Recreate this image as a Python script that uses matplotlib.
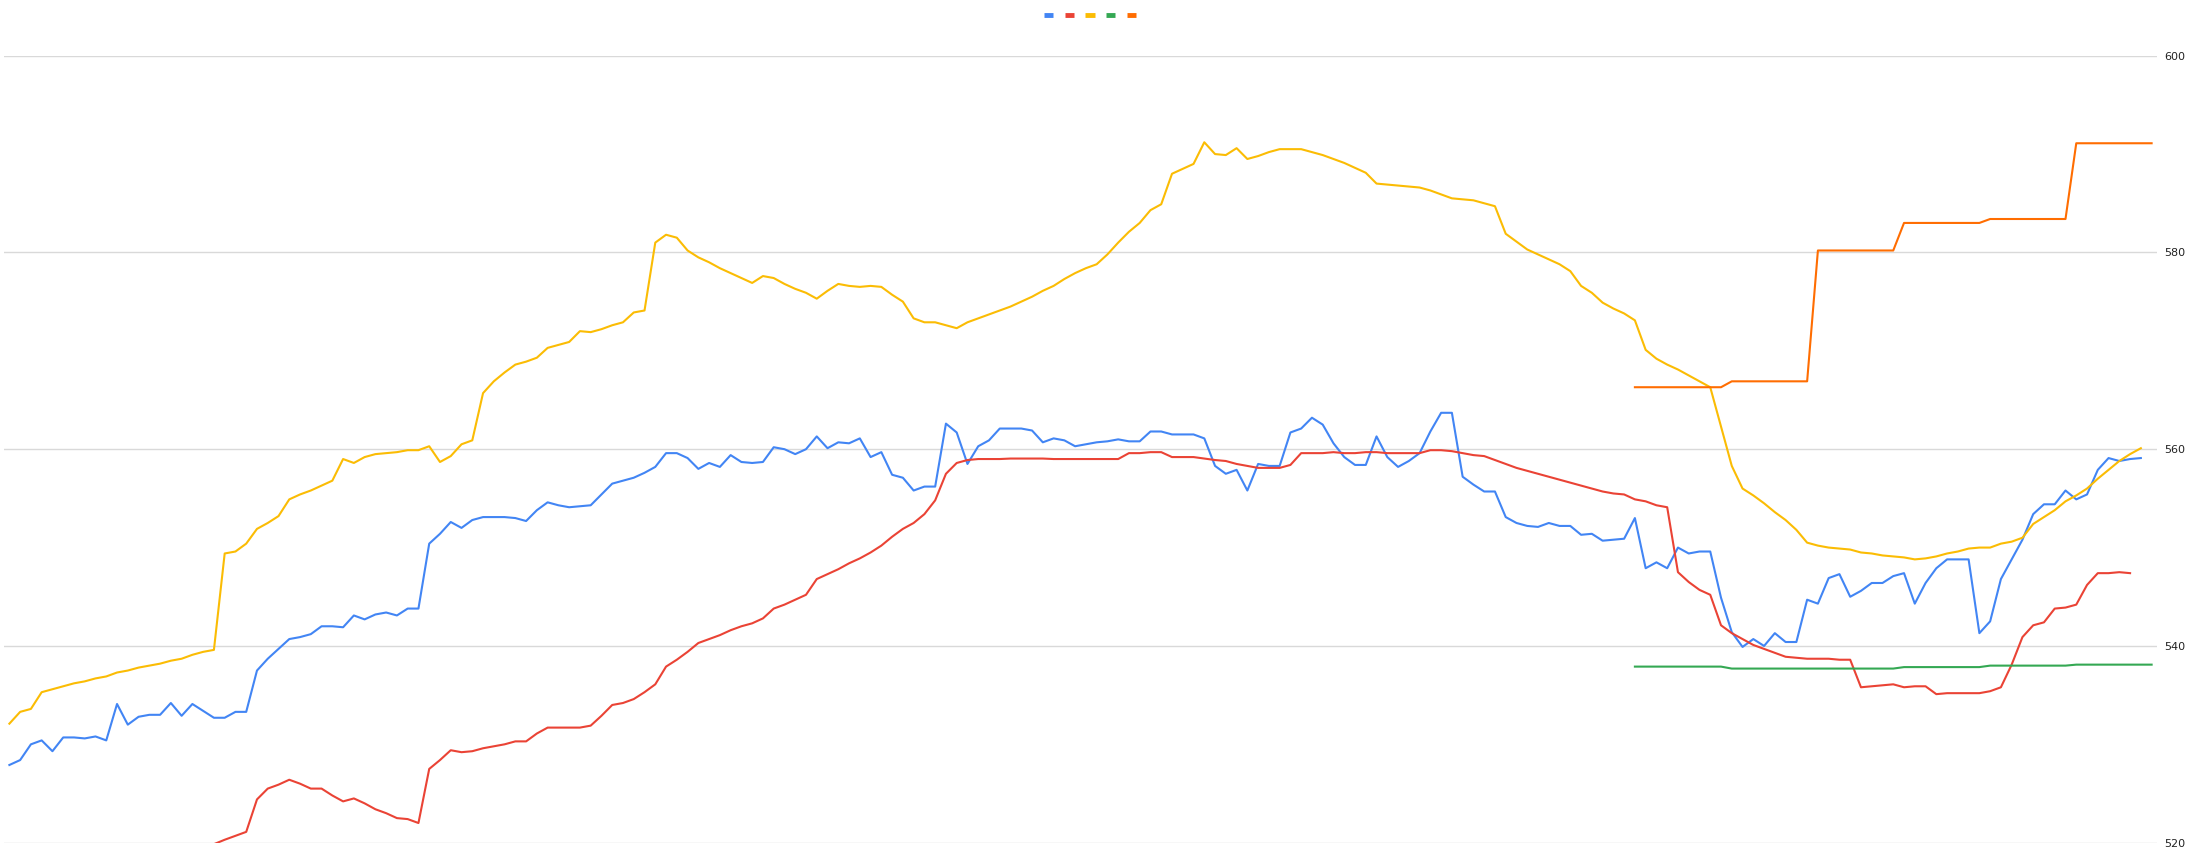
import matplotlib
matplotlib.use("Agg")
import matplotlib.pyplot as plt
from matplotlib.lines import Line2D
import numpy as np

# ---------------- data ----------------
n_points = 200
y_ticks = [520, 540, 560, 580, 600]

blue = [527.9, 528.4, 530.0, 530.4, 529.3, 530.7, 530.7, 530.6, 530.8, 530.4,
        534.1, 532.0, 532.8, 533.0, 533.0, 534.2, 532.9, 534.1, 533.4, 532.7,
        532.7, 533.3, 533.3, 537.5, 538.7, 539.7, 540.7, 540.9, 541.2, 542.0,
        542.0, 541.9, 543.1, 542.7, 543.2, 543.4, 543.1, 543.8, 543.8, 550.4,
        551.4, 552.6, 552.0, 552.8, 553.1, 553.1, 553.1, 553.0, 552.7, 553.8,
        554.6, 554.3, 554.1, 554.2, 554.3, 555.4, 556.5, 556.8, 557.1, 557.6,
        558.2, 559.6, 559.6, 559.1, 558.0, 558.6, 558.2, 559.4, 558.7, 558.6,
        558.7, 560.2, 560.0, 559.5, 560.0, 561.3, 560.1, 560.7, 560.6, 561.1,
        559.2, 559.7, 557.4, 557.1, 555.8, 556.2, 556.2, 562.6, 561.7, 558.5,
        560.3, 560.9, 562.1, 562.1, 562.1, 561.9, 560.7, 561.1, 560.9, 560.3,
        560.5, 560.7, 560.8, 561.0, 560.8, 560.8, 561.8, 561.8, 561.5, 561.5,
        561.5, 561.1, 558.3, 557.5, 557.9, 555.8, 558.5, 558.3, 558.3, 561.7,
        562.1, 563.2, 562.5, 560.6, 559.2, 558.4, 558.4, 561.3, 559.2, 558.2,
        558.8, 559.6, 561.8, 563.7, 563.7, 557.2, 556.4, 555.7, 555.7, 553.1,
        552.5, 552.2, 552.1, 552.5, 552.2, 552.2, 551.3, 551.4, 550.7, 550.8,
        550.9, 553.0, 547.9, 548.5, 547.9, 550.0, 549.4, 549.6, 549.6, 544.9,
        541.4, 539.9, 540.7, 540.0, 541.3, 540.4, 540.4, 544.7, 544.3, 546.9,
        547.3, 545.0, 545.6, 546.4, 546.4, 547.1, 547.4, 544.3, 546.4, 547.9,
        548.8, 548.8, 548.8, 541.3, 542.5, 546.8, 548.8, 550.8, 553.4, 554.4,
        554.4, 555.8, 554.9, 555.4, 557.9, 559.1, 558.8, 559.0, 559.1]

red = [None] * 19 + [
        519.85, 520.3, 520.7, 521.1, 524.4, 525.5, 525.9, 526.4, 526.0, 525.5,
        525.5, 524.8, 524.2, 524.5, 524.0, 523.4, 523.0, 522.5, 522.4, 522.0,
        527.5, 528.4, 529.4, 529.2, 529.3, 529.6, 529.8, 530.0, 530.3, 530.3,
        531.1, 531.7, 531.7, 531.7, 531.7, 531.9, 532.9, 534.0, 534.2, 534.6,
        535.3, 536.1, 537.9, 538.6, 539.4, 540.3, 540.7, 541.1, 541.6, 542.0,
        542.3, 542.8, 543.8, 544.2, 544.7, 545.2, 546.8, 547.3, 547.8, 548.4,
        548.9, 549.5, 550.2, 551.1, 551.9, 552.5, 553.4, 554.8, 557.5, 558.6,
        558.9, 559.0, 559.0, 559.0, 559.05, 559.05, 559.05, 559.05, 559.0, 559.0,
        559.0, 559.0, 559.0, 559.0, 559.0, 559.6, 559.6, 559.7, 559.7, 559.2,
        559.2, 559.2, 559.05, 558.9, 558.8, 558.5, 558.3, 558.1, 558.1, 558.1,
        558.4, 559.6, 559.6, 559.6, 559.7, 559.6, 559.6, 559.7, 559.7, 559.6,
        559.6, 559.6, 559.6, 559.9, 559.9, 559.8, 559.6, 559.4, 559.3, 558.9,
        558.5, 558.1, 557.8, 557.5, 557.2, 556.9, 556.6, 556.3, 556.0, 555.7,
        555.5, 555.4, 554.9, 554.7, 554.3, 554.1, 547.5, 546.5, 545.7, 545.2,
        542.1, 541.3, 540.7, 540.1, 539.7, 539.3, 538.9, 538.8, 538.7, 538.7,
        538.7, 538.6, 538.6, 535.8, 535.9, 536.0, 536.1, 535.8, 535.9, 535.9,
        535.1, 535.2, 535.2, 535.2, 535.2, 535.4, 535.8, 538.1, 540.9, 542.1,
        542.4, 543.8, 543.9, 544.2, 546.2, 547.4, 547.4, 547.5, 547.4]

yellow = [532.1, 533.3, 533.6, 535.3, 535.6, 535.9, 536.2, 536.4, 536.7, 536.9,
          537.3, 537.5, 537.8, 538.0, 538.2, 538.5, 538.7, 539.1, 539.4, 539.6,
          549.4, 549.6, 550.4, 551.9, 552.5, 553.2, 554.9, 555.4, 555.8, 556.3,
          556.8, 559.0, 558.6, 559.2, 559.5, 559.6, 559.7, 559.9, 559.9, 560.3,
          558.7, 559.3, 560.5, 560.9, 565.7, 566.9, 567.8, 568.6, 568.9, 569.3,
          570.3, 570.6, 570.9, 572.0, 571.9, 572.2, 572.6, 572.9, 573.9, 574.1,
          581.0, 581.8, 581.5, 580.2, 579.5, 579.0, 578.4, 577.9, 577.4, 576.9,
          577.6, 577.4, 576.8, 576.3, 575.9, 575.3, 576.1, 576.8, 576.6, 576.5,
          576.6, 576.5, 575.7, 575.0, 573.3, 572.9, 572.9, 572.6, 572.3, 572.9,
          573.3, 573.7, 574.1, 574.5, 575.0, 575.5, 576.1, 576.6, 577.3, 577.9,
          578.4, 578.8, 579.8, 581.0, 582.1, 583.0, 584.3, 584.9, 588.0, 588.5,
          589.0, 591.2, 590.0, 589.9, 590.6, 589.5, 589.8, 590.2, 590.5, 590.5,
          590.5, 590.2, 589.9, 589.5, 589.1, 588.6, 588.1, 587.0, 586.9, 586.8,
          586.7, 586.6, 586.3, 585.9, 585.5, 585.4, 585.3, 585.0, 584.7, 581.9,
          581.1, 580.3, 579.8, 579.3, 578.8, 578.1, 576.6, 575.9, 574.9, 574.3,
          573.8, 573.1, 570.1, 569.2, 568.6, 568.1, 567.5, 566.9, 566.3, 562.3,
          558.3, 556.0, 555.3, 554.5, 553.6, 552.8, 551.8, 550.5, 550.2, 550.0,
          549.9, 549.8, 549.5, 549.4, 549.2, 549.1, 549.0, 548.8, 548.9, 549.1,
          549.4, 549.6, 549.9, 550.0, 550.0, 550.4, 550.6, 551.0, 552.4, 553.1,
          553.8, 554.7, 555.3, 556.0, 557.0, 557.9, 558.8, 559.5, 560.1]

green = [None] * 151 + [537.9] * 9 + [537.7] * 16 + [537.85] * 8 + [538.0] * 8 + [538.1] * 8

orange = [None] * 151 + [566.3] * 9 + [566.9] * 8 + [580.2] * 8 + [583.0] * 8 + [583.4] * 8 + [591.1] * 8

series = [blue, red, yellow, green, orange]
colors = ["#4285F4", "#EA4335", "#FBBC04", "#34A853", "#FF6D01"]

# ---------------- figure ----------------
W, H = 2193, 861
fig = plt.figure(figsize=(W / 100, H / 100), dpi=100)
left, right = 4 / W, 2157 / W
bottom, top = (H - 842.7) / H, (H - 55.7) / H
ax = fig.add_axes([left, bottom, right - left, top - bottom])

for vals, c in zip(series, colors):
    y = np.array([np.nan if v is None else v for v in vals], dtype=float)
    x = np.arange(len(y))
    ax.plot(x, y, color=c, lw=1.5, solid_joinstyle="round", zorder=3)

ax.set_xlim(-0.5, n_points - 0.5)
ax.set_ylim(520, 600)
ax.set_yticks(y_ticks)
ax.set_yticklabels([str(t) for t in y_ticks])
ax.yaxis.tick_right()
ax.tick_params(axis="y", length=0, pad=5, labelsize=8, labelcolor="#222222")
ax.set_xticks([])
for s in ax.spines.values():
    s.set_visible(False)
ax.yaxis.grid(True, color="#d9d9d9", lw=1.0, zorder=0)
ax.set_axisbelow(True)

handles = [Line2D([0], [0], color=c, lw=3.5, solid_capstyle="butt") for c in colors]
fig.legend(handles, [""] * 5, loc="center", ncol=5,
           bbox_to_anchor=(1090 / W, 1 - 15.7 / H), frameon=False,
           handlelength=0.65, handletextpad=0.0, columnspacing=0.86, fontsize=10)

fig.savefig("out.png", dpi=100, facecolor="white")
